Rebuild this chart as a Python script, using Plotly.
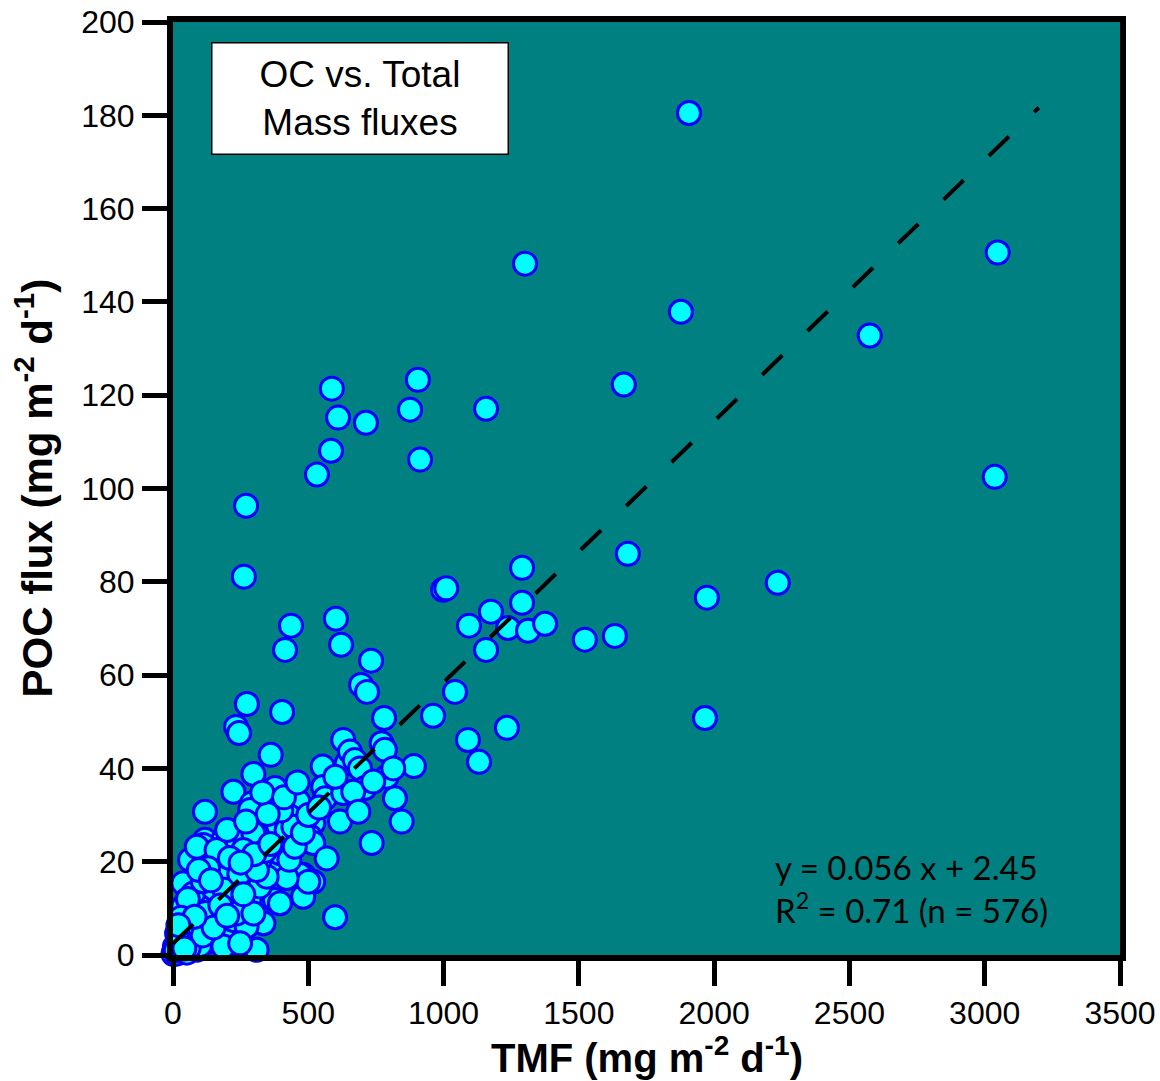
import plotly.graph_objects as go

# Total mass flux (TMF) and particulate organic carbon (POC) flux, mg m-2 d-1
tmf = [
    1907, 1301, 3048, 1877, 2575, 1666, 587, 905, 876, 1157, 610, 713, 584, 913, 532, 3037,
    270, 262, 1681, 1290, 2235, 998, 1010, 1973, 1175, 1290, 1094, 1238, 1312, 1375, 1522, 1633,
    1157, 602, 436, 414, 621, 732, 695, 717, 1042, 961, 780, 1966, 403, 273, 233, 244,
    1234, 1090, 1131, 890,
    361, 297, 223, 291, 377, 346, 463, 118, 553, 555, 562, 629, 642, 629, 617, 518,
    432, 383, 321, 371, 309, 248, 506, 118, 186, 285, 654, 771, 783, 672, 691, 790,
    814, 709, 666, 820, 685, 845, 734, 740, 420, 445, 297, 599,
    518, 568, 518, 481, 481, 112, 143, 81, 204, 223, 260, 389, 469, 500, 377, 334,
    229, 309, 75, 51, 7, 3, 26, 93, 63, 161, 130, 186, 223, 272, 248, 285,
    161, 100, 38, 38, 75, 63, 88, 161, 285, 321, 272, 137, 88, 32, 2, 14,
    51, 100, 395, 420, 346, 211, 235, 297, 186, 248, 395, 321,
    10, 20, 45, 58, 70, 110, 120, 150, 172, 110, 130, 95, 210, 190, 245, 260,
    310, 340, 300, 360, 430, 450, 480, 400, 350, 330, 250, 150, 175, 200, 55, 30,
    140, 200, 270, 410, 460, 500, 540, 600, 15, 42, 80, 20,
]
poc = [
    180.5, 148.2, 150.6, 137.9, 132.8, 122.3, 121.4, 123.3, 116.9, 117.1, 115.2, 114.1, 108.1, 106.2, 103.0, 102.5,
    96.3, 81.1, 86.0, 83.0, 79.8, 78.3, 78.6, 76.6, 73.6, 75.5, 70.6, 70.1, 69.5, 71.0, 67.6, 68.4,
    65.4, 72.1, 70.6, 65.4, 66.5, 63.1, 57.9, 56.4, 56.4, 51.3, 50.8, 50.8, 52.1, 53.8, 48.9, 47.6,
    48.7, 46.1, 41.4, 40.5,
    42.9, 38.8, 35.0, 32.5, 35.8, 33.6, 32.9, 30.7, 40.4, 36.0, 33.6, 46.1, 41.1, 34.7, 28.6, 28.2,
    29.7, 29.0, 28.2, 26.1, 26.1, 25.4, 25.4, 24.7, 24.7, 31.1, 43.6, 45.4, 44.0, 41.8, 40.0, 38.2,
    40.0, 35.8, 35.0, 33.6, 30.7, 28.6, 24.0, 37.2, 26.8, 27.5, 26.1, 8.1,
    24.0, 20.7, 15.7, 17.2, 12.5, 23.6, 20.0, 17.2, 15.4, 19.3, 22.5, 18.9, 17.2, 15.7, 11.8, 6.8,
    4.7, 1.1, 9.7, 7.1, 1.8, 0.5, 5.4, 6.4, 3.6, 9.7, 7.5, 5.4, 7.5, 9.7, 13.2, 12.5,
    12.5, 11.8, 10.4, 15.4, 13.2, 20.4, 23.2, 22.5, 15.7, 14.7, 6.1, 2.9, 1.1, 2.5, 0.2, 0.3,
    0.5, 2.1, 21.8, 16.5, 16.8, 11.8, 8.9, 8.9, 1.8, 2.5, 11.1, 20.4,
    1.0, 3.2, 4.5, 1.5, 5.8, 4.2, 9.0, 14.2, 17.0, 15.8, 18.6, 18.2, 20.8, 14.0, 17.4, 13.0,
    18.2, 22.3, 21.6, 23.8, 20.4, 23.2, 26.2, 31.0, 30.2, 34.8, 19.8, 5.9, 10.6, 8.4, 12.0, 8.0,
    16.0, 26.8, 28.6, 33.8, 37.0, 30.0, 31.6, 38.2, 4.6, 1.4, 8.2, 6.4,
]

# Linear regression of POC on TMF
slope = 0.056
intercept = 2.45
n_obs = 576
r_squared = 0.71
fit_x = [0, 3200]
fit_y = [slope * x + intercept for x in fit_x]

x_ticks = [0, 500, 1000, 1500, 2000, 2500, 3000, 3500]
y_ticks = [0, 20, 40, 60, 80, 100, 120, 140, 160, 180, 200]

x_title = "<b>TMF (mg m<sup>-2</sup> d<sup>-1</sup>)</b>"
y_title = "<b>POC flux (mg m<sup>-2</sup> d<sup>-1</sup>)</b>"
box_title = "OC vs. Total<br>Mass fluxes"

SANS = "Arial, 'Liberation Sans', sans-serif"

fig = go.Figure()
fig.add_trace(go.Scatter(
    x=tmf, y=poc, mode="markers",
    marker=dict(size=23, color="#00FFFF", line=dict(color="#0000FF", width=3)),
    cliponaxis=False, showlegend=False, hoverinfo="x+y",
))
fig.add_trace(go.Scatter(
    x=fit_x, y=fit_y, mode="lines",
    line=dict(color="black", width=4, dash="28px,35px"),
    cliponaxis=False, showlegend=False, hoverinfo="skip",
))

axis_common = dict(
    showgrid=False, zeroline=False, showline=True, linecolor="black", linewidth=6,
    mirror=True, ticks="outside", ticklen=25, tickwidth=5, tickcolor="black",
    tickfont=dict(family=SANS, size=32, color="black"), automargin=False,
)

fig.update_layout(
    width=1160, height=1081, autosize=False,
    margin=dict(l=173, r=40, t=22, b=126),
    paper_bgcolor="white", plot_bgcolor="#008080",
    xaxis=dict(range=[0, 3500], tickvals=x_ticks, ticklabelstandoff=0, **axis_common),
    yaxis=dict(range=[0, 200], tickvals=y_ticks, ticklabelstandoff=1, **axis_common),
    annotations=[
        dict(
            text=x_title, xref="paper", yref="paper", x=0.5, y=0,
            xanchor="center", yanchor="middle", yshift=-100, showarrow=False,
            font=dict(family=SANS, size=40, color="black"),
        ),
        dict(
            text=y_title, xref="paper", yref="paper", x=0, y=0.5, textangle=-90,
            xanchor="center", yanchor="middle", xshift=-139, showarrow=False,
            font=dict(family=SANS, size=42, color="black"),
        ),
        dict(
            text=box_title, xref="paper", yref="paper",
            x=0.197, y=0.9185, xanchor="center", yanchor="middle", showarrow=False,
            font=dict(family=SANS, size=37, color="black"),
            bgcolor="white", bordercolor="black", borderwidth=1.5, borderpad=0,
            width=295, height=110,
        ),
        dict(
            text=f"y = {slope} x + {intercept}<br>R<sup>2</sup> = {r_squared} (n = {n_obs})",
            xref="paper", yref="paper", x=0.634, y=0.071,
            xanchor="left", yanchor="middle", align="left", showarrow=False,
            font=dict(family="Lato, 'Open Sans', sans-serif", size=33, color="black"),
        ),
    ],
)

fig.write_html("out.html")
